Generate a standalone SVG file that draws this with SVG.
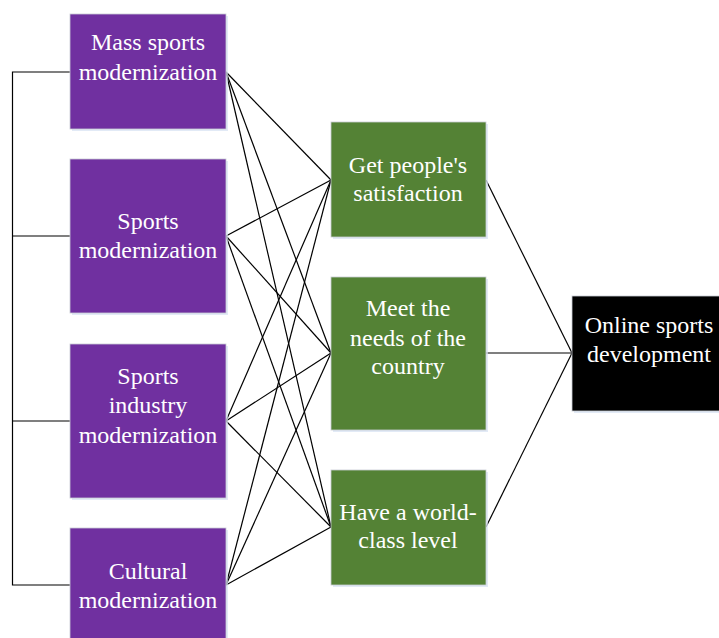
<svg xmlns="http://www.w3.org/2000/svg" width="719" height="638" viewBox="0 0 719 638">
  <style>
    .box { stroke: #c8ccd4; stroke-width: 0.8; }
    .shadow { fill: #d6e1f2; opacity: 0.7; }
    .purple { fill: #7030a0; }
    .green { fill: #548235; }
    .dark { fill: #000000; }
    .label { font-family: "Liberation Serif", "Times New Roman", serif; font-size: 24px; fill: #ffffff; text-anchor: middle; }
    .wire { stroke: #000000; stroke-width: 1.2; fill: none; }
  </style>
  <rect width="719" height="638" fill="#ffffff"/>

  <!-- connectors -->
  <g id="connectors" class="wire">
    <!-- left bracket joining the four modernization boxes -->
    <polyline points="70,72 12.5,72 12.5,585 70,585"/>
    <line x1="12.5" y1="236" x2="70" y2="236"/>
    <line x1="12.5" y1="421" x2="70" y2="421"/>
    <!-- modernization boxes to goals -->
    <line x1="226" y1="72" x2="331" y2="180"/>
    <line x1="226" y1="72" x2="331" y2="353"/>
    <line x1="226" y1="72" x2="331" y2="527"/>
    <line x1="226" y1="236" x2="331" y2="180"/>
    <line x1="226" y1="236" x2="331" y2="353"/>
    <line x1="226" y1="236" x2="331" y2="527"/>
    <line x1="226" y1="421" x2="331" y2="180"/>
    <line x1="226" y1="421" x2="331" y2="353"/>
    <line x1="226" y1="421" x2="331" y2="527"/>
    <line x1="226" y1="585" x2="331" y2="180"/>
    <line x1="226" y1="585" x2="331" y2="353"/>
    <line x1="226" y1="585" x2="331" y2="527"/>
    <!-- goals to outcome -->
    <line x1="486" y1="180" x2="572" y2="353"/>
    <line x1="486" y1="353" x2="572" y2="353"/>
    <line x1="486" y1="527" x2="572" y2="353"/>
  </g>

  <g id="mass-sports">
    <rect class="shadow" x="72" y="16" width="156" height="115"/>
    <rect class="box purple" x="70" y="14" width="156" height="115"/>
    <text class="label" x="148" y="50">Mass sports</text>
    <text class="label" x="148" y="80">modernization</text>
  </g>

  <g id="sports">
    <rect class="shadow" x="72" y="161" width="156" height="154"/>
    <rect class="box purple" x="70" y="159" width="156" height="154"/>
    <text class="label" x="148" y="229">Sports</text>
    <text class="label" x="148" y="258">modernization</text>
  </g>

  <g id="sports-industry">
    <rect class="shadow" x="72" y="346" width="156" height="154"/>
    <rect class="box purple" x="70" y="344" width="156" height="154"/>
    <text class="label" x="148" y="384">Sports</text>
    <text class="label" x="148" y="413">industry</text>
    <text class="label" x="148" y="443">modernization</text>
  </g>

  <g id="cultural">
    <rect class="shadow" x="72" y="530" width="156" height="115"/>
    <rect class="box purple" x="70" y="528" width="156" height="115"/>
    <text class="label" x="148" y="579">Cultural</text>
    <text class="label" x="148" y="608">modernization</text>
  </g>

  <g id="satisfaction">
    <rect class="shadow" x="333" y="124" width="155" height="115"/>
    <rect class="box green" x="331" y="122" width="155" height="115"/>
    <text class="label" x="408" y="173">Get people's</text>
    <text class="label" x="408" y="201">satisfaction</text>
  </g>

  <g id="country-needs">
    <rect class="shadow" x="333" y="279" width="155" height="153"/>
    <rect class="box green" x="331" y="277" width="155" height="153"/>
    <text class="label" x="408" y="316">Meet the</text>
    <text class="label" x="408" y="346">needs of the</text>
    <text class="label" x="408" y="374">country</text>
  </g>

  <g id="world-class">
    <rect class="shadow" x="333" y="472" width="155" height="115"/>
    <rect class="box green" x="331" y="470" width="155" height="115"/>
    <text class="label" x="408" y="520">Have a world-</text>
    <text class="label" x="408" y="548">class level</text>
  </g>

  <g id="online-sports">
    <rect class="shadow" x="574" y="298" width="155" height="115"/>
    <rect class="box dark" x="572" y="296" width="155" height="115"/>
    <text class="label" x="649" y="333">Online sports</text>
    <text class="label" x="649" y="362">development</text>
  </g>
</svg>
